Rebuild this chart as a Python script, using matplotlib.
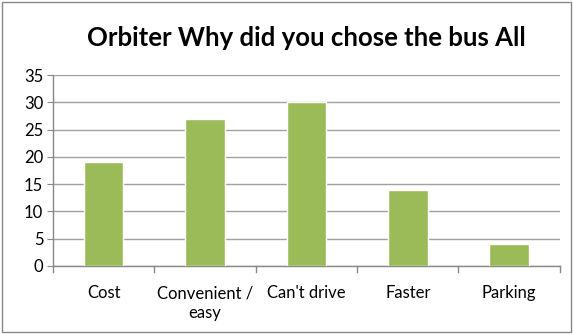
import matplotlib
matplotlib.use("Agg")
import matplotlib.pyplot as plt
from matplotlib.patches import Rectangle

categories = ["Cost", "Convenient /\neasy", "Can't drive", "Faster", "Parking"]
values = [19, 27, 30, 14, 4]
yticks = [0, 5, 10, 15, 20, 25, 30, 35]
title = "Orbiter Why did you chose the bus All"

plt.rcParams['font.family'] = ['Lato', 'DejaVu Sans']

fig = plt.figure(figsize=(5.73, 3.34), dpi=100)
fig.patches.append(Rectangle((0.004, 0.006), 0.992, 0.988, transform=fig.transFigure,
                             fill=False, edgecolor='#888888', linewidth=1.0))
ax = fig.add_axes([0.0925, 0.2036, 0.8845, 0.5718])

x = list(range(len(categories)))
ax.bar(x, values, width=0.39, color='#9BBB59', edgecolor='white', linewidth=1.0, zorder=3)
ax.set_xlim(-0.5, len(categories) - 0.5)
ax.set_ylim(0, 35)
ax.set_yticks(yticks)
ax.set_yticklabels([str(t) for t in yticks], fontsize=12)
ax.yaxis.grid(True, color='#a0a0a0', linewidth=1.0, zorder=0)
ax.set_axisbelow(True)
ax.tick_params(axis='y', length=4, color='#888888', pad=3, direction='out')

ax.set_xticks(x)
ax.set_xticklabels(categories, fontsize=12, linespacing=1.3)
ax.tick_params(axis='x', length=0, pad=14)
for b in [i - 0.5 for i in range(len(categories))] + [len(categories) - 0.5]:
    ax.plot([b, b], [0, -0.03], transform=ax.get_xaxis_transform(), color='#888888',
            linewidth=1.0, clip_on=False)

for s in ['top', 'right']:
    ax.spines[s].set_visible(False)
for s in ['left', 'bottom']:
    ax.spines[s].set_color('#888888')
    ax.spines[s].set_linewidth(1.0)

fig.text(0.535, 0.885, title, ha='center', va='center', fontsize=18.5, fontweight='bold')

fig.savefig("out.png", dpi=100)
